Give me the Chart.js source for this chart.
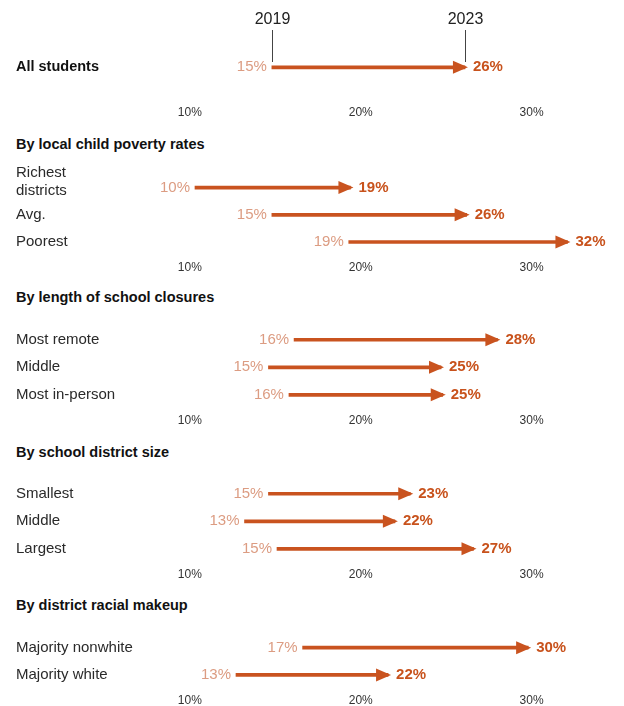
<!DOCTYPE html>
<html lang="en">
<head>
<meta charset="UTF-8">
<title>Share of students chronically absent, 2019 vs 2023</title>
<script src="https://cdn.jsdelivr.net/npm/chart.js"></script>
<style>
  body { margin: 0; background: #fff; font-family: "Liberation Sans", Arial, sans-serif; }
  #wrap { position: relative; width: 624px; height: 706px; overflow: hidden; }
  .head { position: absolute; left: 16px; font-weight: bold; font-size: 14.5px; line-height: 16px; color: #111; }
  .box { position: absolute; left: 0; width: 624px; }
</style>
</head>
<body>
<div id="wrap"></div>

<script>
  // tick labels on the x axis
  const xTicks = [10, 20, 30];

  // section titles (first section has none)
  const titles = [null, 'By local child poverty rates', 'By length of school closures',
    'By school district size', 'By district racial makeup'];

  // rows and values, 2019 -> 2023 (%)
  const allLabels = ['All students'];
  const all2019 = [14.8];
  const all2023 = [26.1];

  const povertyLabels = [['Richest', 'districts'], 'Avg.', 'Poorest'];
  const poverty2019 = [10.3, 14.8, 19.3];
  const poverty2023 = [19.4, 26.2, 32.1];

  const closureLabels = ['Most remote', 'Middle', 'Most in-person'];
  const closure2019 = [16.1, 14.6, 15.8];
  const closure2023 = [28.0, 24.7, 24.8];

  const sizeLabels = ['Smallest', 'Middle', 'Largest'];
  const size2019 = [14.6, 13.2, 15.1];
  const size2023 = [22.9, 22.0, 26.6];

  const raceLabels = ['Majority nonwhite', 'Majority white'];
  const race2019 = [16.6, 12.7];
  const race2023 = [29.8, 21.6];

  const sections = [
    { labels: allLabels, start: all2019, end: all2023 },
    { labels: povertyLabels, start: poverty2019, end: poverty2023 },
    { labels: closureLabels, start: closure2019, end: closure2023 },
    { labels: sizeLabels, start: size2019, end: size2023 },
    { labels: raceLabels, start: race2019, end: race2023 }
  ];

  // page layout (pixels)
  const firstRowY = [67, 187, 339, 493, 647];
  const axisLabelY = [112, 266, 419, 573, 699];
  const titleY = [null, 144, 297, 452, 605];

  const ARROW = '#c9531f';
  const START_TXT = '#dc9c82';
  const END_TXT = '#c8521c';
  const FONT = '"Liberation Sans", Arial, sans-serif';
  const TICK_SIZE = 12, TICK_PAD = 5;
  const AXIS_H = TICK_PAD + TICK_SIZE * 1.2 + 6; // measured height of the x axis box

  // row labels, arrowheads and value labels
  const arrowPlugin = {
    id: 'arrows',
    afterDatasetsDraw(chart) {
      const { sec, bold } = chart.options.plugins.arrows;
      const x = chart.scales.x, y = chart.scales.y;
      const ctx = chart.ctx;
      ctx.save();
      ctx.textBaseline = 'middle';
      sec.labels.forEach((lab, i) => {
        const yy = y.getPixelForValue(i);
        const x0 = x.getPixelForValue(sec.start[i]);
        const x1 = x.getPixelForValue(sec.end[i]);

        // row label
        const lines = Array.isArray(lab) ? lab : [lab];
        ctx.fillStyle = bold ? '#111' : '#2a2a2a';
        ctx.font = (bold ? 'bold 14.5px ' : '15px ') + FONT;
        ctx.textAlign = 'left';
        lines.forEach((t, k) => {
          const off = lines.length > 1 ? 3 - (lines.length - 1 - k) * 18 : 0;
          ctx.fillText(t, 16, yy + off);
        });

        // arrowhead
        ctx.fillStyle = ARROW;
        ctx.beginPath();
        ctx.moveTo(x1 + 3, yy);
        ctx.lineTo(x1 - 12, yy - 6.5);
        ctx.lineTo(x1 - 12, yy + 6.5);
        ctx.closePath();
        ctx.fill();

        ctx.font = '15px ' + FONT;
        ctx.fillStyle = START_TXT;
        ctx.textAlign = 'right';
        ctx.fillText(Math.round(sec.start[i]) + '%', x0 - 5, yy);

        ctx.font = 'bold 15px ' + FONT;
        ctx.fillStyle = END_TXT;
        ctx.textAlign = 'left';
        ctx.fillText(Math.round(sec.end[i]) + '%', x1 + 8, yy);
      });
      ctx.restore();
    }
  };

  // 2019 / 2023 markers above the first row
  const yearPlugin = {
    id: 'years',
    afterDraw(chart) {
      if (!chart.options.plugins.years.show) return;
      const sec = chart.options.plugins.arrows.sec;
      const x = chart.scales.x;
      const ctx = chart.ctx;
      ctx.save();
      [[sec.start[0], '2019'], [sec.end[0], '2023']].forEach(([v, t]) => {
        const px = Math.round(x.getPixelForValue(v)) + 0.5;
        ctx.strokeStyle = '#444';
        ctx.lineWidth = 1;
        ctx.beginPath();
        ctx.moveTo(px, 30);
        ctx.lineTo(px, 62);
        ctx.stroke();
        ctx.fillStyle = '#222';
        ctx.font = '16px ' + FONT;
        ctx.textAlign = 'center';
        ctx.textBaseline = 'middle';
        ctx.fillText(t, px, 20);
      });
      ctx.restore();
    }
  };

  const wrap = document.getElementById('wrap');

  sections.forEach((sec, s) => {
    if (titles[s]) {
      const h = document.createElement('div');
      h.className = 'head';
      h.style.top = (titleY[s] - 8) + 'px';
      h.textContent = titles[s];
      wrap.appendChild(h);
    }

    const bottom = axisLabelY[s] - 12;
    const top = s === 0 ? 2 * firstRowY[0] - bottom : firstRowY[s] - 13.3;
    const padTop = s === 0 ? top : 10;
    const boxTop = top - padTop;
    const boxH = Math.round(bottom + AXIS_H - boxTop);

    const box = document.createElement('div');
    box.className = 'box';
    box.style.top = boxTop + 'px';
    box.style.height = boxH + 'px';
    const cv = document.createElement('canvas');
    cv.width = 624;
    cv.height = boxH;
    box.appendChild(cv);
    wrap.appendChild(box);

    new Chart(cv.getContext('2d'), {
      type: 'bar',
      data: {
        labels: sec.labels,
        datasets: [{
          data: sec.start.map((v, i) => [v, sec.end[i]]),
          backgroundColor: ARROW,
          barThickness: 3,
          borderSkipped: false
        }]
      },
      options: {
        indexAxis: 'y',
        responsive: false,
        animation: false,
        layout: { padding: { left: 19, right: 7, top: padTop, bottom: 0 } },
        plugins: {
          legend: { display: false },
          tooltip: { enabled: false },
          arrows: { sec: sec, bold: s === 0 },
          years: { show: s === 0 }
        },
        scales: {
          x: {
            type: 'linear',
            min: 0,
            max: 35,
            afterBuildTicks: ax => { ax.ticks = xTicks.map(v => ({ value: v })); },
            grid: { display: false, drawTicks: false },
            border: { display: false },
            ticks: {
              callback: v => v + '%',
              color: '#333',
              padding: TICK_PAD,
              maxRotation: 0,
              font: { family: FONT, size: TICK_SIZE }
            }
          },
          y: {
            type: 'category',
            display: false
          }
        }
      },
      plugins: [arrowPlugin, yearPlugin]
    });
  });
</script>
</body>
</html>
